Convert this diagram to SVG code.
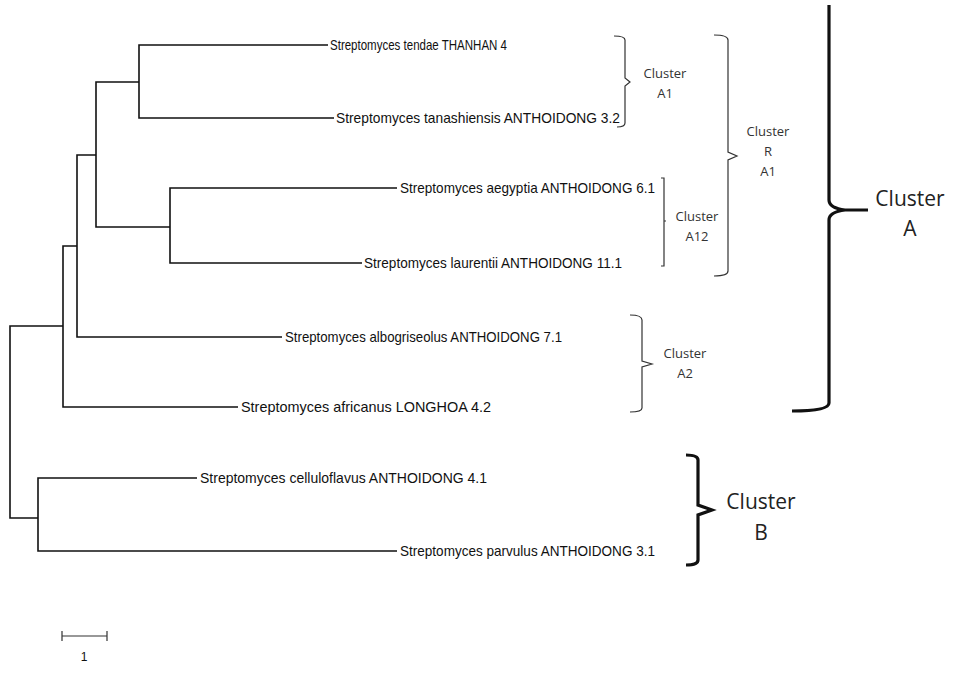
<svg xmlns="http://www.w3.org/2000/svg" width="960" height="674" viewBox="0 0 960 674">
<style>
.t{fill:none;stroke:#111;stroke-width:1.6}
.b{fill:none;stroke:#333;stroke-width:1.2}
.B{fill:none;stroke:#111;stroke-width:3.2}
.l{font-family:"Liberation Sans",Arial,sans-serif;font-size:15px;fill:#111}
.c{font-family:"Open Sans","Liberation Sans",sans-serif;font-size:13px;fill:#333;text-anchor:middle}
.C{font-family:"Open Sans","Liberation Sans",sans-serif;font-size:21px;fill:#222;text-anchor:middle}
</style>
<rect width="960" height="674" fill="#fff"/>
<g id="connectors">
<path class="t" d="M328 45H139V118H334M139 82H96V227H170V188H397M170 227V263H362M96 155H77V337H282M77 246H63V407H238M63 326H10V518H38V478H197M38 518V551H397"/>
</g>
<g id="leaves">
<text class="l" x="330" y="50" textLength="177" lengthAdjust="spacingAndGlyphs">Streptomyces tendae THANHAN 4</text>
<text class="l" x="336" y="123" textLength="284" lengthAdjust="spacingAndGlyphs">Streptomyces tanashiensis ANTHOIDONG 3.2</text>
<text class="l" x="400" y="193" textLength="255" lengthAdjust="spacingAndGlyphs">Streptomyces aegyptia ANTHOIDONG 6.1</text>
<text class="l" x="364" y="268" textLength="258" lengthAdjust="spacingAndGlyphs">Streptomyces laurentii ANTHOIDONG 11.1</text>
<text class="l" x="285" y="342" textLength="277" lengthAdjust="spacingAndGlyphs">Streptomyces albogriseolus ANTHOIDONG 7.1</text>
<text class="l" x="241" y="412" textLength="250" lengthAdjust="spacingAndGlyphs">Streptomyces africanus LONGHOA 4.2</text>
<text class="l" x="200" y="483" textLength="287" lengthAdjust="spacingAndGlyphs">Streptomyces celluloflavus ANTHOIDONG 4.1</text>
<text class="l" x="400" y="556" textLength="255" lengthAdjust="spacingAndGlyphs">Streptomyces parvulus ANTHOIDONG 3.1</text>
</g>
<g id="clusterA1">
<path class="b" d="M614 36Q625 36 625 40V78L630 82L625 86V123Q625 127 617 127"/>
<text class="c" x="665" y="78">Cluster</text><text class="c" x="665" y="98">A1</text>
</g>
<g id="clusterRA1">
<path class="b" d="M714 35Q728 35 728 40V152L737 156L728 160V271Q728 276 714 276"/>
<text class="c" x="768" y="136">Cluster</text><text class="c" x="768" y="156">R</text><text class="c" x="768" y="176">A1</text>
</g>
<g id="clusterA12">
<path class="b" d="M661 178H664V221H666M664 221V266H661"/>
<text class="c" x="697" y="221">Cluster</text><text class="c" x="697" y="241">A12</text>
</g>
<g id="clusterA2">
<path class="b" d="M630 315Q642 315 642 320V361L652 364L642 367V408Q642 412 630 412"/>
<text class="c" x="685" y="358">Cluster</text><text class="c" x="685" y="378">A2</text>
</g>
<g id="clusterA">
<path class="B" d="M829 5V200Q829 208 845 210H868M845 210Q829 212 829 220V403Q829 411 792 411"/>
<text class="C" x="910" y="206">Cluster</text><text class="C" x="910" y="236">A</text>
</g>
<g id="clusterB">
<path class="B" d="M686 455Q698 455 698 460V505L712 510L698 515V560Q698 565 686 565"/>
<text class="C" x="761" y="509">Cluster</text><text class="C" x="761" y="540">B</text>
</g>
<g id="scale">
<path class="b" d="M62 636H107M62 631V641M107 631V641"/>
<text x="84" y="661" style="font-family:'Liberation Sans',sans-serif;font-size:12px;fill:#111;text-anchor:middle">1</text>
</g>
</svg>
